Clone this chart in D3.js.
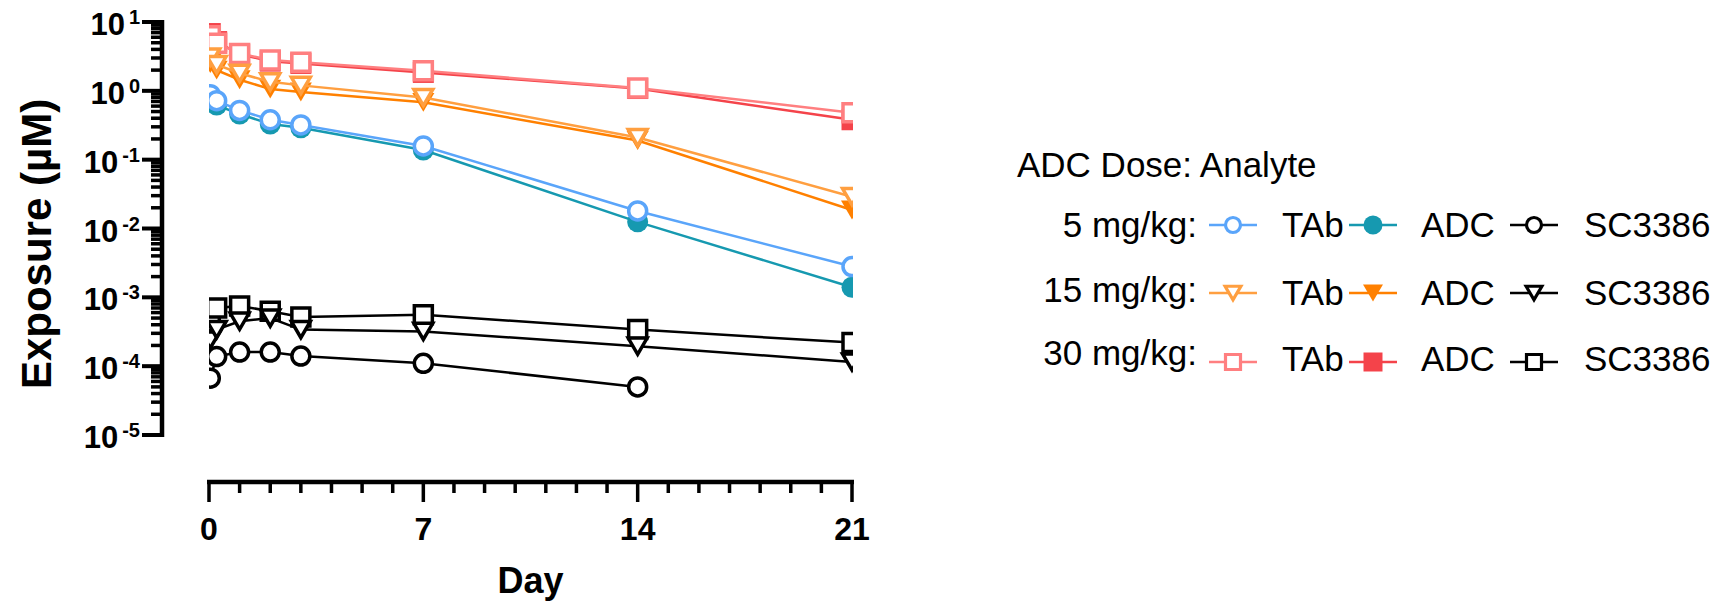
<!DOCTYPE html>
<html>
<head>
<meta charset="utf-8">
<script src="https://cdn.jsdelivr.net/npm/d3@7"></script>
<style>
  body { margin: 0; background: #fff; }
  svg { display: block; font-family: Arial, "Liberation Sans", Helvetica, sans-serif; }
</style>
</head>
<body>
<svg id="chart" width="1729" height="603"></svg>
<script>
/***********************************************
 * Data
 ***********************************************/
const days = [0.042, 0.25, 1, 2, 3, 7, 14, 21];

// 5 mg/kg
const tab5  = [0.88, 0.72, 0.52, 0.38, 0.32, 0.158, 0.018, 0.0028];
const adc5  = [0.80, 0.62, 0.46, 0.33, 0.29, 0.138, 0.0125, 0.0014];
const sc5   = [6.7e-5, 1.38e-4, 1.6e-4, 1.6e-4, 1.4e-4, 1.1e-4, 5.0e-5, null];
// 15 mg/kg
const tab15 = [3.1, 2.4, 1.8, 1.35, 1.2, 0.80, 0.21, 0.029];
const adc15 = [2.5, 2.0, 1.45, 1.06, 0.96, 0.68, 0.19, 0.0186];
const sc15  = [2.4e-4, 3.4e-4, 4.5e-4, 5.0e-4, 3.4e-4, 3.2e-4, 1.95e-4, 1.15e-4];
// 30 mg/kg
const tab30 = [6.3, 4.9, 3.5, 2.8, 2.6, 1.95, 1.1, 0.48];
const adc30 = [6.8, 5.2, 3.4, 2.7, 2.5, 1.85, 1.08, 0.38];
const sc30  = [4.5e-4, 7.0e-4, 7.5e-4, 6.3e-4, 5.2e-4, 5.6e-4, 3.4e-4, 2.2e-4];

const xTicks = [0, 7, 14, 21];
const yExps = [-5, -4, -3, -2, -1, 0, 1];

const doseLabels = ["5 mg/kg:", "15 mg/kg:", "30 mg/kg:"];
const analyteLabels = ["TAb", "ADC", "SC3386"];
const legendTitle = "ADC Dose: Analyte";

// series: dose row, analyte column, values
const series = [
  { dose: 2, an: 1, values: adc30, color: "#F4434A", shape: "square",   filled: true  },
  { dose: 2, an: 0, values: tab30, color: "#FF7F80", shape: "square",   filled: false },
  { dose: 1, an: 1, values: adc15, color: "#FF8000", shape: "triangle", filled: true  },
  { dose: 1, an: 0, values: tab15, color: "#FF9F40", shape: "triangle", filled: false },
  { dose: 0, an: 1, values: adc5,  color: "#1699B0", shape: "circle",   filled: true  },
  { dose: 0, an: 0, values: tab5,  color: "#5AA5FA", shape: "circle",   filled: false },
  { dose: 2, an: 2, values: sc30,  color: "#000000", shape: "square",   filled: false },
  { dose: 1, an: 2, values: sc15,  color: "#000000", shape: "triangle", filled: false },
  { dose: 0, an: 2, values: sc5,   color: "#000000", shape: "circle",   filled: false }
];

/***********************************************
 * Scales & layout
 ***********************************************/
const svg = d3.select("#chart");

const x = d3.scaleLinear().domain([0, 21]).range([209, 852]);
const y = d3.scaleLog().domain([1e-5, 10]).range([435, 22]);

const yAxisX = 162;
const xAxisY = 482;

// marker path builder, size = nominal width
function markerPath(shape, size) {
  if (shape === "circle") return d3.symbol(d3.symbolCircle, Math.PI * (size / 2) ** 2)();
  if (shape === "square") return d3.symbol(d3.symbolSquare, size * size)();
  // downward triangle centred on its box
  const w = size * 1.05, h = size * 0.9;
  return `M${-w / 2},${-h / 2}L${w / 2},${-h / 2}L0,${h / 2}Z`;
}

/***********************************************
 * Y axis (log, with minor ticks)
 ***********************************************/
const yAx = svg.append("g");
yAx.append("line")
  .attr("x1", yAxisX).attr("x2", yAxisX)
  .attr("y1", y(10) - 2).attr("y2", y(1e-5) + 2)
  .attr("stroke", "#000").attr("stroke-width", 4.5);

const minor = [];
yExps.slice(0, -1).forEach(e => {
  for (let m = 2; m <= 9; m++) minor.push(m * Math.pow(10, e));
});
yAx.selectAll("line.minor").data(minor).join("line")
  .attr("class", "minor")
  .attr("x1", yAxisX - 11).attr("x2", yAxisX)
  .attr("y1", d => y(d)).attr("y2", d => y(d))
  .attr("stroke", "#000").attr("stroke-width", 3.5);

yAx.selectAll("line.major").data(yExps).join("line")
  .attr("class", "major")
  .attr("x1", yAxisX - 20).attr("x2", yAxisX)
  .attr("y1", d => y(Math.pow(10, d))).attr("y2", d => y(Math.pow(10, d)))
  .attr("stroke", "#000").attr("stroke-width", 4);

const yLab = yAx.selectAll("text.ylab").data(yExps).join("text")
  .attr("class", "ylab")
  .attr("x", 140)
  .attr("y", d => y(Math.pow(10, d)) + 13)
  .attr("text-anchor", "end")
  .attr("font-weight", "bold");
yLab.append("tspan").attr("font-size", 31).text("10");
yLab.append("tspan").attr("font-size", 20).attr("dx", 4).attr("dy", -11).text(d => d);

svg.append("text")
  .attr("transform", `translate(51,244) rotate(-90)`)
  .attr("text-anchor", "middle")
  .attr("font-size", 42)
  .attr("font-weight", "bold")
  .text("Exposure (\u00B5M)");

/***********************************************
 * X axis (ticks every day, labels every week)
 ***********************************************/
const xAx = svg.append("g");
xAx.append("line")
  .attr("x1", x(0) - 2).attr("x2", x(21) + 2)
  .attr("y1", xAxisY).attr("y2", xAxisY)
  .attr("stroke", "#000").attr("stroke-width", 4.5);

xAx.selectAll("line.xt").data(d3.range(0, 22)).join("line")
  .attr("class", "xt")
  .attr("x1", d => x(d)).attr("x2", d => x(d))
  .attr("y1", xAxisY)
  .attr("y2", d => xTicks.includes(d) ? xAxisY + 20 : xAxisY + 11)
  .attr("stroke", "#000").attr("stroke-width", 3.5);

xAx.selectAll("text.xlab").data(xTicks).join("text")
  .attr("class", "xlab")
  .attr("x", d => x(d)).attr("y", 540)
  .attr("text-anchor", "middle")
  .attr("font-size", 32).attr("font-weight", "bold")
  .text(d => d);

svg.append("text")
  .attr("x", (x(0) + x(21)) / 2).attr("y", 593)
  .attr("text-anchor", "middle")
  .attr("font-size", 36).attr("font-weight", "bold")
  .text("Day");

/***********************************************
 * Series (clipped to the plot area)
 ***********************************************/
svg.append("clipPath").attr("id", "plotClip")
  .append("rect")
  .attr("x", x(0)).attr("y", 0)
  .attr("width", x(21) - x(0) + 1).attr("height", xAxisY);

const plot = svg.append("g").attr("clip-path", "url(#plotClip)");

const line = d3.line()
  .defined(d => d.v != null)
  .x(d => x(d.t))
  .y(d => y(d.v));

series.forEach(s => {
  const pts = days.map((t, i) => ({ t, v: s.values[i] }));
  const g = plot.append("g");
  g.append("path")
    .attr("d", line(pts))
    .attr("fill", "none")
    .attr("stroke", s.color)
    .attr("stroke-width", 2.5);
  g.selectAll("path.mk").data(pts.filter(d => d.v != null)).join("path")
    .attr("class", "mk")
    .attr("transform", d => `translate(${x(d.t)},${y(d.v)})`)
    .attr("d", markerPath(s.shape, s.filled ? 21 : 18))
    .attr("fill", s.filled ? s.color : "#fff")
    .attr("stroke", s.filled ? "none" : s.color)
    .attr("stroke-width", 3.5);
});

/***********************************************
 * Legend
 ***********************************************/
const leg = svg.append("g");
leg.append("text")
  .attr("x", 1017).attr("y", 177)
  .attr("font-size", 35)
  .text(legendTitle);

const rowSymY = [225, 293, 362];
const rowDoseBase = [237, 302, 365];
const rowTextBase = [237, 305, 371];
const colSymX = [1233, 1373, 1534];
const colTextX = [1282, 1421, 1584];

doseLabels.forEach((lab, r) => {
  leg.append("text")
    .attr("x", 1197).attr("y", rowDoseBase[r])
    .attr("text-anchor", "end")
    .attr("font-size", 35)
    .text(lab);
});

series.forEach(s => {
  const cx = colSymX[s.an], cy = rowSymY[s.dose];
  leg.append("line")
    .attr("x1", cx - 24).attr("x2", cx + 24)
    .attr("y1", cy).attr("y2", cy)
    .attr("stroke", s.color).attr("stroke-width", 2.5);
  leg.append("path")
    .attr("transform", `translate(${cx},${cy})`)
    .attr("d", markerPath(s.shape, s.filled ? 19 : 15))
    .attr("fill", s.filled ? s.color : "#fff")
    .attr("stroke", s.filled ? "none" : s.color)
    .attr("stroke-width", 3.2);
  leg.append("text")
    .attr("x", colTextX[s.an]).attr("y", rowTextBase[s.dose])
    .attr("font-size", 35)
    .text(analyteLabels[s.an]);
});
</script>
</body>
</html>
